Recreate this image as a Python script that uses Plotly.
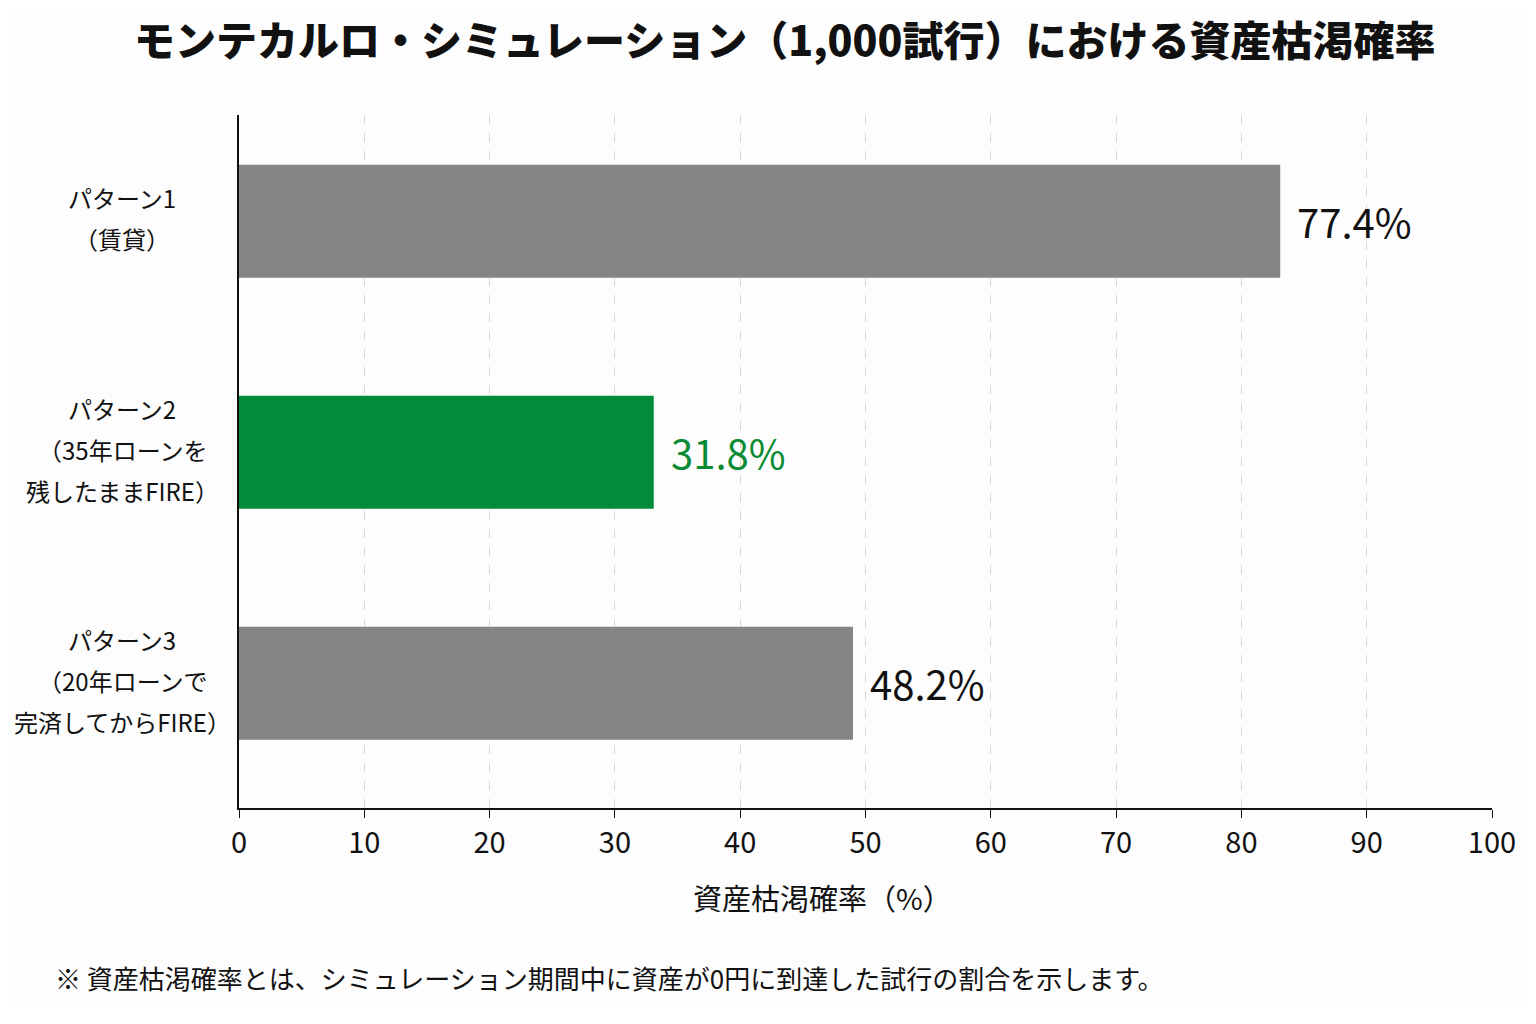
import plotly.graph_objects as go

# data
patterns = ["パターン1", "パターン2", "パターン3"]
pattern_labels = [
    ["パターン1", "（賃貸）"],
    ["パターン2", "（35年ローンを", "残したままFIRE）"],
    ["パターン3", "（20年ローンで", "完済してからFIRE）"],
]
bar_values = [83.1, 33.1, 49.0]
value_texts = ["77.4%", "31.8%", "48.2%"]
bar_colors = ["#858585", "#008c3a", "#858585"]
text_colors = ["#111111", "#0b8c34", "#111111"]
x_ticks = [0, 10, 20, 30, 40, 50, 60, 70, 80, 90, 100]

FONT = "Noto Sans CJK JP"
LINE_GAP = 41

fig = go.Figure()
fig.add_trace(go.Bar(
    y=patterns, x=bar_values, orientation="h",
    marker=dict(color=bar_colors, line=dict(width=0)),
    width=0.49, hoverinfo="skip",
))

# value labels next to each bar
for p, v, t, c in zip(patterns, bar_values, value_texts, text_colors):
    fig.add_annotation(x=v, y=p, text=t, showarrow=False, xanchor="left",
                       xshift=15, font=dict(family=FONT, size=40, color=c))

# category labels, one line at a time so the spacing matches
for p, lines in zip(patterns, pattern_labels):
    n = len(lines)
    for i, line in enumerate(lines):
        fig.add_annotation(x=-0.0930, xref="paper", y=p, text=line, showarrow=False,
                           xanchor="center", yanchor="middle",
                           yshift=((n - 1) / 2 - i) * LINE_GAP + 3,
                           font=dict(family=FONT, size=24, color="#111111"))

fig.add_annotation(x=0.466, xref="paper", y=-0.128, yref="paper",
                   text="資産枯渇確率（%）", showarrow=False,
                   xanchor="center", yanchor="middle",
                   font=dict(family=FONT, size=29, color="#111111"))
fig.add_annotation(x=-0.1487, xref="paper", y=-0.244, yref="paper",
                   text="※ 資産枯渇確率とは、シミュレーション期間中に資産が0円に到達した試行の割合を示します。",
                   showarrow=False, xanchor="left", yanchor="middle",
                   font=dict(family=FONT, size=26, color="#111111"))

fig.update_layout(
    width=1520, height=1000,
    paper_bgcolor="#fdfdfd", plot_bgcolor="#fdfdfd",
    margin=dict(l=231, r=31, t=107, b=200),
    showlegend=False,
    title=dict(text="モンテカルロ・シミュレーション（1,000試行）における資産枯渇確率",
               x=0.511, xanchor="center", y=1 - 34 / 1000, yanchor="middle",
               font=dict(family=FONT, size=41, color="#111111", weight=900)),
    font=dict(family=FONT, color="#111111"),
)
fig.update_xaxes(
    range=[0, 100], tickvals=x_ticks, ticks="outside", ticklen=8,
    tickcolor="#111111", tickfont=dict(size=29, family=FONT),
    showline=True, linecolor="#111111", linewidth=1.5,
    showgrid=True, gridcolor="#d8d8d8", griddash="dash", gridwidth=1,
    zeroline=False, fixedrange=True,
)
fig.update_yaxes(
    range=[2.54, -0.46], showticklabels=False, ticks="",
    showline=True, linecolor="#111111", linewidth=1.5,
    showgrid=False, zeroline=False,
)

fig.write_html("out.html")
